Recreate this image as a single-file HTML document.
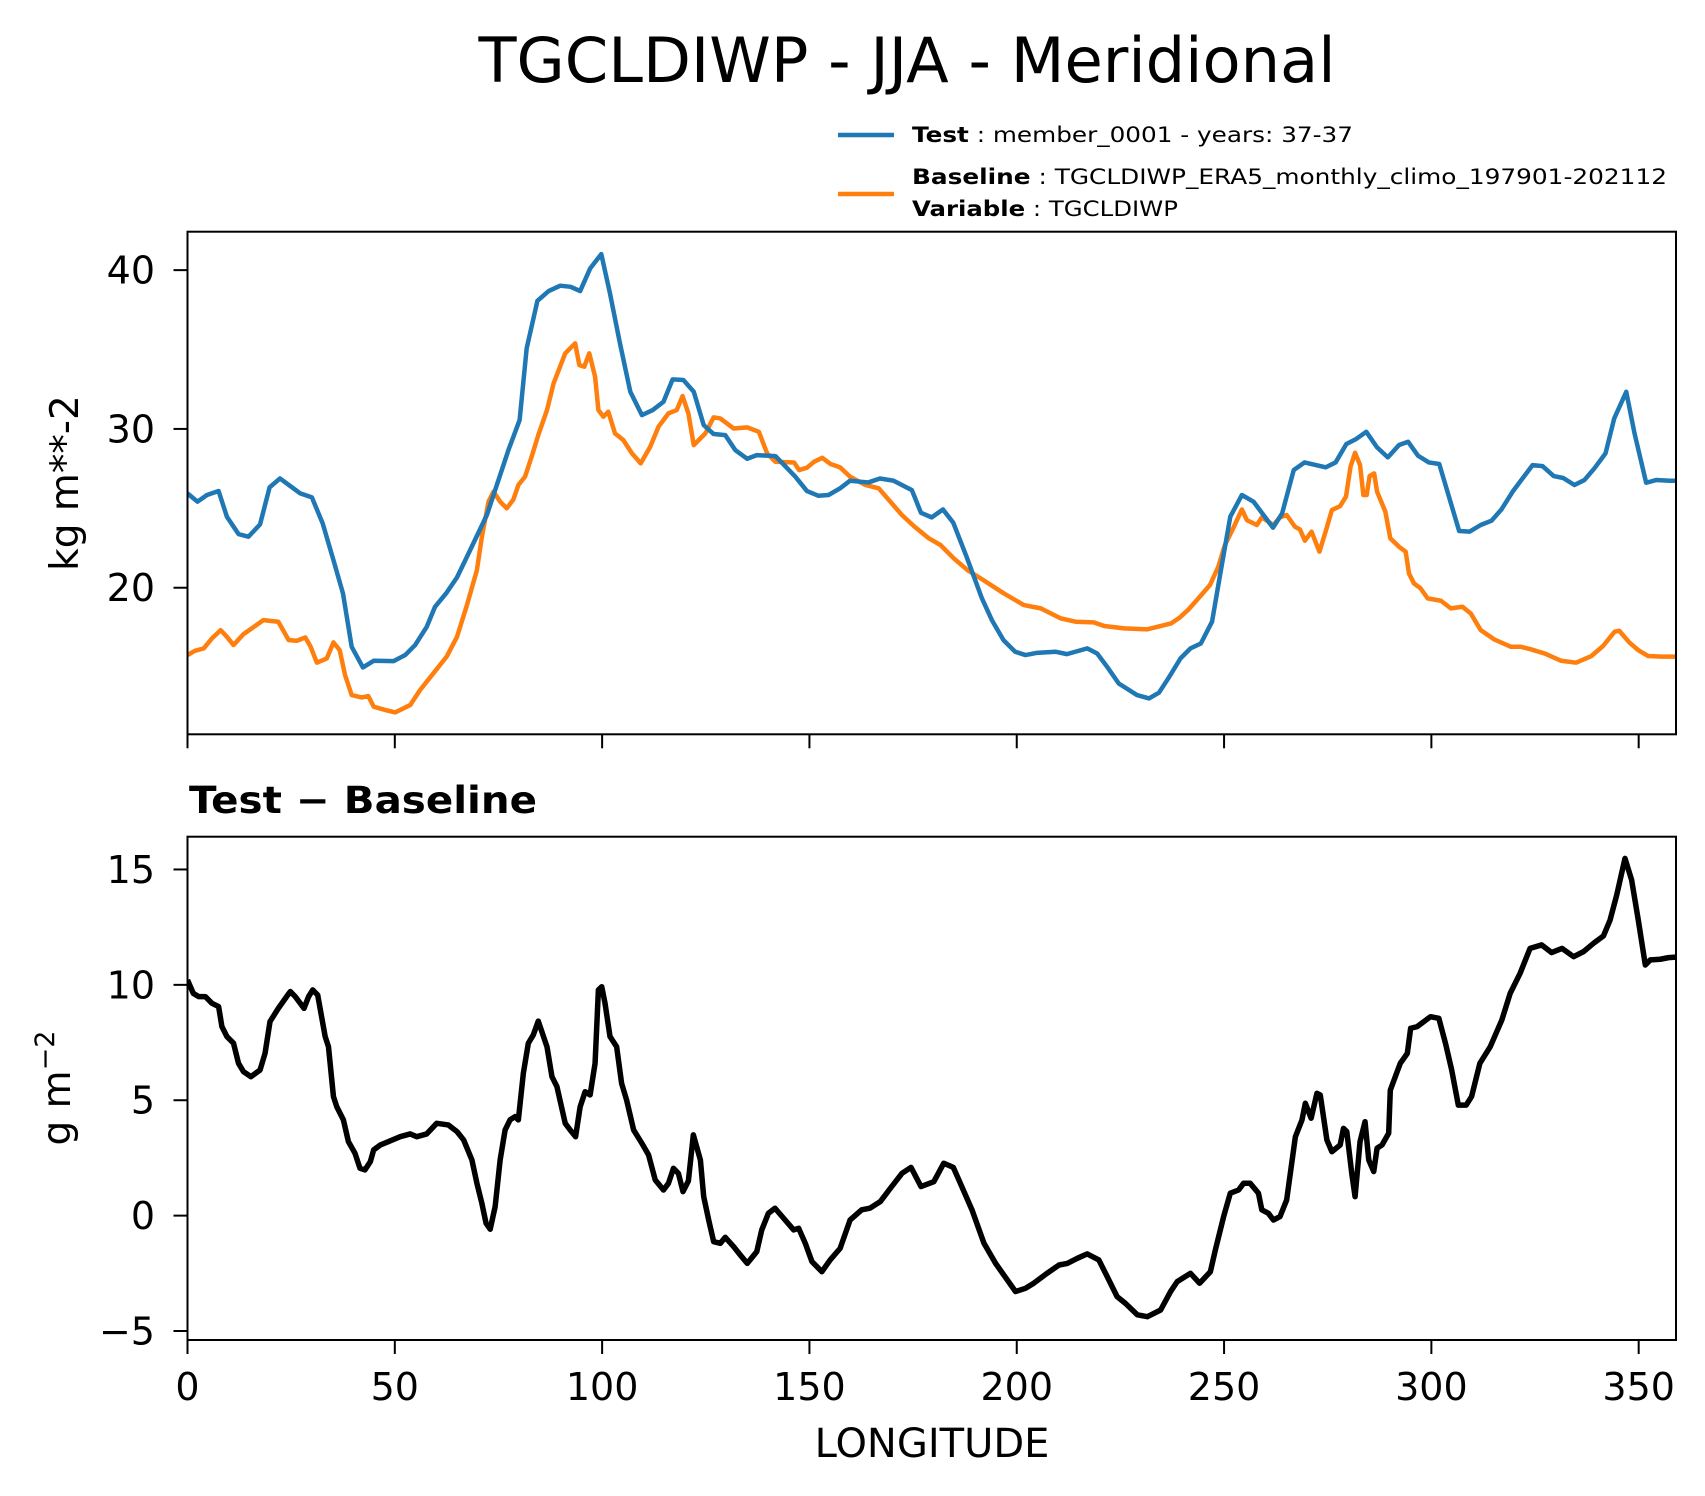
<!DOCTYPE html>
<html><head><meta charset="utf-8"><style>
html,body{margin:0;padding:0;background:#fff;}
svg{display:block;font-family:"DejaVu Sans","Liberation Sans",sans-serif;}
</style></head><body>
<svg id="fig" width="1705" height="1496" viewBox="0 0 1705 1496" xmlns="http://www.w3.org/2000/svg">
<rect width="1705" height="1496" fill="#fff"/>
<text x="907" y="82" text-anchor="middle" font-size="62" textLength="857" lengthAdjust="spacingAndGlyphs">TGCLDIWP - JJA - Meridional</text>
<g>
<line x1="838" y1="135" x2="894" y2="135" stroke="#1f77b4" stroke-width="4.5"/>
<text x="912" y="142" font-size="21" textLength="441" lengthAdjust="spacingAndGlyphs"><tspan font-weight="bold">Test</tspan> : member_0001 - years: 37-37</text>
<line x1="838" y1="194" x2="894" y2="194" stroke="#ff7f0e" stroke-width="4.5"/>
<text x="912" y="184" font-size="21" textLength="755" lengthAdjust="spacingAndGlyphs"><tspan font-weight="bold">Baseline</tspan> : TGCLDIWP_ERA5_monthly_climo_197901-202112</text>
<text x="912" y="216" font-size="21" textLength="266" lengthAdjust="spacingAndGlyphs"><tspan font-weight="bold">Variable</tspan> : TGCLDIWP</text>
</g>
<g id="top"></g>
<g id="bot"></g>
<text x="189" y="813" font-size="37" font-weight="bold" textLength="348" lengthAdjust="spacingAndGlyphs">Test − Baseline</text>
<text x="932" y="1457" text-anchor="middle" font-size="40">LONGITUDE</text>
<text transform="translate(78,483) rotate(-90)" text-anchor="middle" font-size="39">kg m**-2</text>
<text transform="translate(70,1088) rotate(-90)" text-anchor="middle" font-size="39">g m<tspan dy="-16" font-size="27">−2</tspan></text>
</svg>
<script>
const testLon=[0,2.4,4.7,7.5,9.5,12.3,14.7,17.5,19.8,22.3,27.2,30,32.6,35.2,37.5,39.6,42.3,44.9,49.7,52.5,54.9,57.7,59.7,62.5,65,67.4,72.2,74.2,77.4,80.1,81.8,84.4,87.1,89.9,92.4,94.7,97.1,99.8,101.9,104.3,106.8,109.6,112.2,114.8,117,119.6,122.1,124.5,126.9,129.7,132.1,135,137.3,141.8,146.6,149.4,152.2,154.6,157.4,159.8,164.2,167,170.3,174.7,176.9,179.5,182.2,184.7,187.9,191.6,194,196.8,199.6,202.1,204.9,209.3,212.1,217,219.4,221.8,224.6,229,231.9,234.3,236.7,239.5,241.9,244.4,247.1,249.1,251.5,254.3,257.1,261.8,264,266.8,269.4,274.5,276.9,279.5,281.7,284.3,286.9,289.5,292.2,294.4,296.8,299.4,301.9,306.7,309.2,311.9,314.5,316.9,319.6,324.4,326.8,329.5,331.8,334.5,336.9,339.3,342,344.1,347,349,351.8,354.2,357.5,359];
const testVal=[25.94,25.42,25.84,26.09,24.47,23.38,23.21,23.99,26.32,26.88,25.94,25.69,24.05,21.74,19.64,16.28,14.98,15.4,15.38,15.76,16.39,17.54,18.8,19.69,20.65,21.95,24.58,26.15,28.67,30.56,35.07,38.07,38.68,39.02,38.95,38.68,40.1,41.01,38.53,35.39,32.34,30.87,31.19,31.71,33.12,33.08,32.34,30.24,29.68,29.61,28.67,28.12,28.35,28.29,26.99,26.09,25.79,25.84,26.26,26.74,26.63,26.88,26.74,26.15,24.72,24.43,24.93,24.09,21.95,19.33,17.96,16.7,15.97,15.76,15.9,15.97,15.82,16.18,15.86,15.02,13.97,13.24,13.03,13.39,14.35,15.55,16.18,16.49,17.86,20.9,24.47,25.84,25.42,23.78,24.68,27.41,27.89,27.58,27.89,29.05,29.34,29.82,28.84,28.21,28.99,29.19,28.31,27.89,27.79,23.57,23.53,23.95,24.22,24.93,26.05,27.72,27.66,27.03,26.91,26.47,26.78,27.51,28.46,30.66,32.34,29.72,26.61,26.78,26.74,26.74];
const baseLon=[0,1.8,3.9,5.9,8,9.5,11.1,13.5,15.5,18.3,21.9,24.4,26.4,28.4,29.7,31.2,33.6,35.2,36.7,38,39.6,42,43.6,44.9,47.7,50.1,53.7,56.1,59.3,62.5,65,67.4,69.8,71,72.6,73.8,75.4,77,78.6,79.8,81.4,83,84.6,86.7,88.3,91.1,93.5,94.5,95.7,96.9,98.3,99.1,100.3,101.5,103.1,105.1,107.2,109.3,111.6,113.6,116,118,119.4,120.8,122.1,124.9,126.9,128.5,131.7,135,137.8,139.8,141.8,146.3,147.5,149.4,151.1,153.1,155.1,157.4,159.8,163.5,166.7,169.5,172.3,175.2,178.8,181.6,184.8,188.1,191.3,196.9,201.7,205.8,210.6,214.2,218.6,221.1,225.9,231.5,237.2,239.3,241.5,243.8,246.6,248.6,250.2,252.2,254.3,255.5,257.9,259.1,261.9,263.5,265.1,267.1,268.3,269.5,271.1,273,274.6,276,278,279.4,280.5,281.6,282.8,283.6,284.4,285.1,286.2,286.9,288.9,290.1,292.2,293.8,294.6,295.8,297.4,299.1,302.3,304.7,307.5,309.5,311.9,315.2,319.2,321.6,324,327.3,331.3,334.9,338.6,341.4,344.2,345.3,347.8,349.9,352.3,355.5,359];
const baseVal=[15.76,16.03,16.18,16.81,17.33,16.91,16.39,17.08,17.44,17.96,17.86,16.7,16.66,16.87,16.28,15.28,15.55,16.56,16.07,14.5,13.24,13.09,13.18,12.51,12.3,12.15,12.61,13.56,14.61,15.66,16.91,18.91,21.11,23.21,25.42,26.05,25.42,25,25.56,26.47,26.99,28.25,29.61,31.19,32.87,34.76,35.39,34.02,33.92,34.76,33.29,31.19,30.77,31.08,29.72,29.3,28.46,27.83,28.88,30.14,30.98,31.19,32.07,30.98,28.98,29.72,30.73,30.66,30.03,30.1,29.82,28.46,27.93,27.89,27.41,27.56,27.93,28.18,27.79,27.58,26.99,26.47,26.26,25.42,24.58,23.88,23.11,22.69,21.85,21.11,20.59,19.64,18.91,18.7,18.07,17.86,17.82,17.59,17.44,17.38,17.75,18.12,18.65,19.33,20.17,21.32,22.69,23.74,24.93,24.26,23.95,24.43,23.95,24.43,24.58,23.84,23.67,22.96,23.53,22.27,23.63,24.89,25.14,25.73,27.62,28.5,27.72,25.84,25.84,27.03,27.2,26.05,24.79,23.11,22.58,22.27,20.9,20.27,19.96,19.33,19.18,18.7,18.8,18.38,17.33,16.74,16.28,16.28,16.12,15.86,15.4,15.28,15.7,16.33,17.23,17.29,16.54,16.07,15.7,15.66,15.66];
const diffLon=[0,1.4,2.7,4.3,5.9,7.5,8.3,9.5,11.1,12.3,13.5,15.3,17.5,18.7,19.9,21.9,23.9,24.8,26,28.1,29.2,30.2,31.4,33.2,34,35.2,36,37.6,38.8,40.4,41.6,42.8,44.1,44.9,46.5,48.5,51.3,53.7,55.3,57.7,60.1,62.9,65,66.6,68.6,69.8,71,72,73,74.2,75.4,76.6,77.8,79,79.8,81,82.2,83.4,84.6,86.7,87.9,89.1,91.1,92.3,93.6,94.7,95.9,97.1,98.3,99.1,99.9,100.7,101.9,103.5,104.7,105.9,107.6,109.6,111.2,112.8,114.8,116,117.2,118.4,119.5,120.8,122,123.7,124.5,125.7,126.9,128.5,129.7,131.7,133.3,135,137.3,138.5,140.1,141.7,143.8,146.2,147.4,149,150.6,153,155,157.4,159.8,162.6,164.6,167.1,169.5,172.3,174.5,176.9,180,182.4,184.7,186.4,189.2,192.1,194.9,199.7,202.1,204.1,207.3,210.2,212.2,214.6,217,219.8,221.8,224.2,226.2,229.1,231.5,234.7,237.1,238.7,241.9,244.1,246.7,247.9,249.9,251.5,253.5,254.7,256.3,258.3,259.1,260.7,261.9,263.5,265.1,267.2,268.8,269.6,271,272.4,273.2,274.8,276,278,278.8,279.6,280.8,281.6,282.8,284,284.9,286.1,286.9,288.1,289.7,290.1,291.3,292.5,294.2,295,296.6,298.2,299.8,301.8,303.4,304.9,306.5,308.4,309.7,311.7,314.2,317,319,321.4,323.8,326.6,329,331.5,334.3,336.7,339.1,341.5,343.1,344.7,346.7,348.3,349.9,351.6,352.8,355.2,357.2,359];
const diffVal=[10.21,9.63,9.49,9.49,9.2,9.06,8.19,7.76,7.47,6.6,6.24,6.02,6.31,7.03,8.41,8.98,9.49,9.71,9.49,8.98,9.49,9.78,9.56,7.76,7.32,5.16,4.72,4.15,3.21,2.7,2.05,1.98,2.34,2.85,3.06,3.21,3.42,3.54,3.42,3.54,4,3.93,3.64,3.28,2.41,1.4,0.53,-0.33,-0.59,0.39,2.41,3.71,4.15,4.29,4.15,6.17,7.47,7.83,8.43,7.32,6.02,5.59,4,3.71,3.42,4.72,5.37,5.23,6.6,9.78,9.92,9.2,7.76,7.32,5.73,5.01,3.71,3.13,2.63,1.55,1.11,1.4,2.05,1.83,1.04,1.5,3.5,2.41,0.82,-0.19,-1.13,-1.2,-0.94,-1.34,-1.7,-2.07,-1.56,-0.62,0.1,0.32,-0.12,-0.62,-0.55,-1.2,-1.99,-2.43,-1.92,-1.42,-0.19,0.25,0.32,0.61,1.18,1.83,2.09,1.26,1.47,2.27,2.09,1.4,0.25,-1.2,-2.07,-3.29,-3.15,-2.93,-2.5,-2.14,-2.07,-1.85,-1.66,-1.92,-2.64,-3.51,-3.8,-4.3,-4.38,-4.09,-3.29,-2.86,-2.5,-2.93,-2.43,-1.49,-0.04,0.97,1.11,1.4,1.4,0.97,0.25,0.1,-0.19,-0.04,0.68,3.42,4.15,4.87,4.22,5.3,5.23,3.28,2.77,3.06,3.78,3.64,1.83,0.82,3.21,4.07,2.41,1.91,2.92,3.06,3.57,5.44,6.02,6.6,7.03,8.12,8.19,8.41,8.62,8.55,7.47,6.31,4.79,4.79,5.16,6.6,7.32,8.48,9.63,10.5,11.58,11.73,11.4,11.58,11.22,11.44,11.8,12.12,12.81,13.89,15.48,14.54,12.81,10.86,11.08,11.11,11.18,11.2];
const xTicks=[0,50,100,150,200,250,300,350];
const xTickLabels=["0","50","100","150","200","250","300","350"];
const topYTicks=[20,30,40];
const topYTickLabels=["20","30","40"];
const botYTicks=[-5,0,5,10,15];
const botYTickLabels=["−5","0","5","10","15"];

const NS="http://www.w3.org/2000/svg";
const X0=187.5,X1=1676,XMIN=0,XMAX=359;
function xs(v){return X0+(v-XMIN)/(XMAX-XMIN)*(X1-X0);}
function mkY(d0,d1,p0,p1){return v=>p0+(v-d0)/(d1-d0)*(p1-p0);}
const yTop=mkY(10.77,42.42,734.3,231.7);
const yBot=mkY(-5.39,16.42,1340,836.7);
function el(tag,attrs,parent){const e=document.createElementNS(NS,tag);for(const k in attrs)e.setAttribute(k,attrs[k]);parent.appendChild(e);return e;}
function line(g,lons,vals,ys,color,w,name){
  let d="";for(let i=0;i<lons.length;i++){d+=(i?"L":"M")+xs(lons[i]).toFixed(2)+","+ys(vals[i]).toFixed(2);}
  const p=el("path",{d:d,fill:"none",stroke:color,"stroke-width":w,"stroke-linejoin":"round","stroke-linecap":"butt"},g);
  
  
}
function axes(g,ys,top,bot,yt,ytl,showX,prefix){
  const clipId=prefix+"clip";
  const defs=el("defs",{},g);
  const cp=el("clipPath",{id:clipId},defs);
  el("rect",{x:X0,y:top,width:X1-X0,height:bot-top},cp);
  for(let i=0;i<yt.length;i++){
    const y=ys(yt[i]);
    const t=el("line",{x1:X0-14,x2:X0,y1:y,y2:y,stroke:"#000","stroke-width":2},g);
    
    
    const tx=el("text",{x:155,y:y+13.5,"text-anchor":"end","font-size":38},g);
    
    
    tx.textContent=ytl[i];
  }
  for(let i=0;i<xTicks.length;i++){
    const x=xs(xTicks[i]);
    const t=el("line",{x1:x,x2:x,y1:bot,y2:bot+14,stroke:"#000","stroke-width":2},g);
    
    
    if(showX){
      const tx=el("text",{x:x,y:1400,"text-anchor":"middle","font-size":38},g);
      
      
      tx.textContent=xTickLabels[i];
    }
  }
  const plot=el("g",{"clip-path":"url(#"+clipId+")"},g);
  
  
  return plot;
}
const gt=document.getElementById("top");
const pt=axes(gt,yTop,231.7,734.3,topYTicks,topYTickLabels,false,"top-");
line(pt,baseLon,baseVal,yTop,"#ff7f0e",4.5,"baseline-series-line");
line(pt,testLon,testVal,yTop,"#1f77b4",4.5,"test-series-line");
const ft=el("rect",{x:X0,y:231.7,width:X1-X0,height:734.3-231.7,fill:"none",stroke:"#000","stroke-width":2},gt);


const gb=document.getElementById("bot");
const pb=axes(gb,yBot,836.7,1340,botYTicks,botYTickLabels,true,"bottom-");
line(pb,diffLon,diffVal,yBot,"#000",5.5,"difference-series-line");
const fb=el("rect",{x:X0,y:836.7,width:X1-X0,height:1340-836.7,fill:"none",stroke:"#000","stroke-width":2},gb);


</script>
</body></html>
